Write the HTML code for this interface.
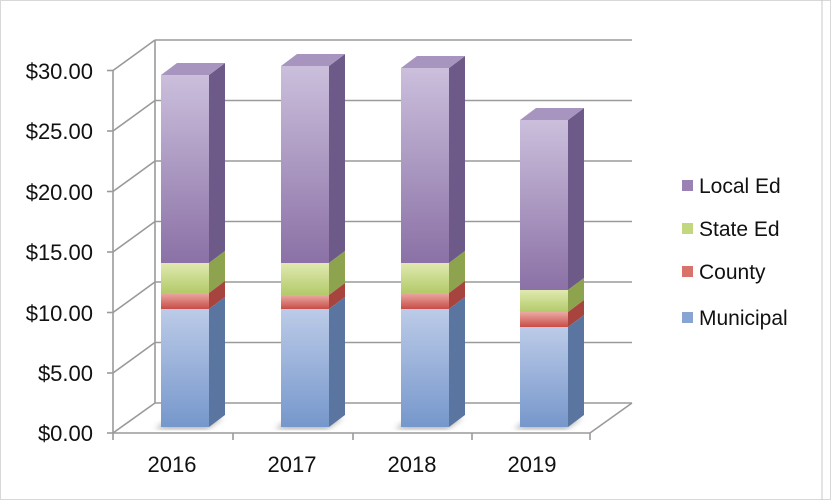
<!DOCTYPE html>
<html><head><style>
body{margin:0;background:#fff;}
svg{display:block;font-family:"Liberation Sans",Arial,sans-serif;}
</style></head><body>
<svg width="831" height="500" viewBox="0 0 831 500">
<defs>
<linearGradient id="gL" x1="0" y1="0" x2="0" y2="1"><stop offset="0" stop-color="#cbbfdc"/><stop offset="1" stop-color="#8b71a6"/></linearGradient>
<linearGradient id="gS" x1="0" y1="0" x2="0" y2="1"><stop offset="0" stop-color="#e0eab0"/><stop offset="1" stop-color="#b3ca6a"/></linearGradient>
<linearGradient id="gC" x1="0" y1="0" x2="0" y2="1"><stop offset="0" stop-color="#eba9a3"/><stop offset="1" stop-color="#c84d47"/></linearGradient>
<linearGradient id="gM" x1="0" y1="0" x2="0" y2="1"><stop offset="0" stop-color="#bccbe8"/><stop offset="1" stop-color="#7697cb"/></linearGradient>
<filter id="bl"><feGaussianBlur stdDeviation="3"/></filter>
</defs>
<rect x="0.5" y="0.5" width="830" height="499" fill="#fff" stroke="#d8d8d8"/>
<line x1="822" y1="0" x2="822" y2="500" stroke="#c8c8c8"/>
<g stroke="#9a9a9a" stroke-width="1.6" fill="none">
<polyline points="113,70 113,433 590,433 632,403"/>
<line x1="233" y1="433" x2="233" y2="440"/><line x1="353" y1="433" x2="353" y2="440"/><line x1="472" y1="433" x2="472" y2="440"/><line x1="590" y1="433" x2="590" y2="440"/><line x1="113" y1="433" x2="113" y2="440"/>
<line x1="155" y1="40" x2="155" y2="403"/>
</g>
<g stroke="#9a9a9a" stroke-width="1.6">
<line x1="155" y1="40" x2="632" y2="40"/><line x1="113" y1="70.5" x2="155" y2="40"/><line x1="107" y1="70.5" x2="113" y2="70.5"/>
<line x1="155" y1="100.5" x2="632" y2="100.5"/><line x1="113" y1="131" x2="155" y2="100.5"/><line x1="107" y1="131" x2="113" y2="131"/>
<line x1="155" y1="161" x2="632" y2="161"/><line x1="113" y1="191.5" x2="155" y2="161"/><line x1="107" y1="191.5" x2="113" y2="191.5"/>
<line x1="155" y1="221.5" x2="632" y2="221.5"/><line x1="113" y1="252" x2="155" y2="221.5"/><line x1="107" y1="252" x2="113" y2="252"/>
<line x1="155" y1="282" x2="632" y2="282"/><line x1="113" y1="312.5" x2="155" y2="282"/><line x1="107" y1="312.5" x2="113" y2="312.5"/>
<line x1="155" y1="342.5" x2="632" y2="342.5"/><line x1="113" y1="373" x2="155" y2="342.5"/><line x1="107" y1="373" x2="113" y2="373"/>
<line x1="155" y1="403" x2="632" y2="403"/><line x1="113" y1="433" x2="155" y2="403"/><line x1="107" y1="433" x2="113" y2="433"/>
</g>
<g>
<g transform="translate(161,0)">
<polygon points="-6,429 46,429 62,418 10,418" fill="#777" opacity="0.6" filter="url(#bl)"/>
<rect x="0" y="75" width="48" height="188" fill="url(#gL)"/><rect x="0" y="263" width="48" height="30" fill="url(#gS)"/><rect x="0" y="293" width="48" height="16" fill="url(#gC)"/><rect x="0" y="309" width="48" height="118" fill="url(#gM)"/>
<polygon points="48,75 64,63 64,251 48,263" fill="#6e5a88"/><polygon points="48,263 64,251 64,281 48,293" fill="#8ea34e"/><polygon points="48,293 64,281 64,297 48,309" fill="#a8443e"/><polygon points="48,309 64,297 64,415 48,427" fill="#5a759f"/>
<polygon points="0,75 16,63 64,63 48,75" fill="#a895bf"/>
</g>
<g transform="translate(281,0)">
<polygon points="-6,429 46,429 62,418 10,418" fill="#777" opacity="0.6" filter="url(#bl)"/>
<rect x="0" y="66" width="48" height="197" fill="url(#gL)"/><rect x="0" y="263" width="48" height="32" fill="url(#gS)"/><rect x="0" y="295" width="48" height="14" fill="url(#gC)"/><rect x="0" y="309" width="48" height="118" fill="url(#gM)"/>
<polygon points="48,66 64,54 64,251 48,263" fill="#6e5a88"/><polygon points="48,263 64,251 64,283 48,295" fill="#8ea34e"/><polygon points="48,295 64,283 64,297 48,309" fill="#a8443e"/><polygon points="48,309 64,297 64,415 48,427" fill="#5a759f"/>
<polygon points="0,66 16,54 64,54 48,66" fill="#a895bf"/>
</g>
<g transform="translate(401,0)">
<polygon points="-6,429 46,429 62,418 10,418" fill="#777" opacity="0.6" filter="url(#bl)"/>
<rect x="0" y="68" width="48" height="195" fill="url(#gL)"/><rect x="0" y="263" width="48" height="30" fill="url(#gS)"/><rect x="0" y="293" width="48" height="16" fill="url(#gC)"/><rect x="0" y="309" width="48" height="118" fill="url(#gM)"/>
<polygon points="48,68 64,56 64,251 48,263" fill="#6e5a88"/><polygon points="48,263 64,251 64,281 48,293" fill="#8ea34e"/><polygon points="48,293 64,281 64,297 48,309" fill="#a8443e"/><polygon points="48,309 64,297 64,415 48,427" fill="#5a759f"/>
<polygon points="0,68 16,56 64,56 48,68" fill="#a895bf"/>
</g>
<g transform="translate(520,0)">
<polygon points="-6,429 46,429 62,418 10,418" fill="#777" opacity="0.6" filter="url(#bl)"/>
<rect x="0" y="120" width="48" height="170" fill="url(#gL)"/><rect x="0" y="290" width="48" height="22" fill="url(#gS)"/><rect x="0" y="312" width="48" height="15" fill="url(#gC)"/><rect x="0" y="327" width="48" height="100" fill="url(#gM)"/>
<polygon points="48,120 64,108 64,278 48,290" fill="#6e5a88"/><polygon points="48,290 64,278 64,300 48,312" fill="#8ea34e"/><polygon points="48,312 64,300 64,315 48,327" fill="#a8443e"/><polygon points="48,327 64,315 64,415 48,427" fill="#5a759f"/>
<polygon points="0,120 16,108 64,108 48,120" fill="#a895bf"/>
</g>
</g>
<g font-size="22" fill="#111" text-anchor="end">
<text x="93" y="79">$30.00</text><text x="93" y="139">$25.00</text><text x="93" y="200">$20.00</text><text x="93" y="260">$15.00</text><text x="93" y="321">$10.00</text><text x="93" y="381">$5.00</text><text x="93" y="441">$0.00</text>
</g>
<g font-size="22" fill="#111" text-anchor="middle">
<text x="172" y="472">2016</text><text x="292" y="472">2017</text><text x="412" y="472">2018</text><text x="532" y="472">2019</text>
</g>
<g font-size="21" fill="#111">
<rect x="682" y="180" width="11" height="11" fill="#9a83b4"/><text x="699" y="193">Local Ed</text>
<rect x="682" y="223" width="11" height="11" fill="#c3d77e"/><text x="699" y="236">State Ed</text>
<rect x="682" y="266" width="11" height="11" fill="#d8726b"/><text x="699" y="279">County</text>
<rect x="682" y="312" width="11" height="11" fill="#87a4d2"/><text x="699" y="325">Municipal</text>
</g>
</svg>
</body></html>
